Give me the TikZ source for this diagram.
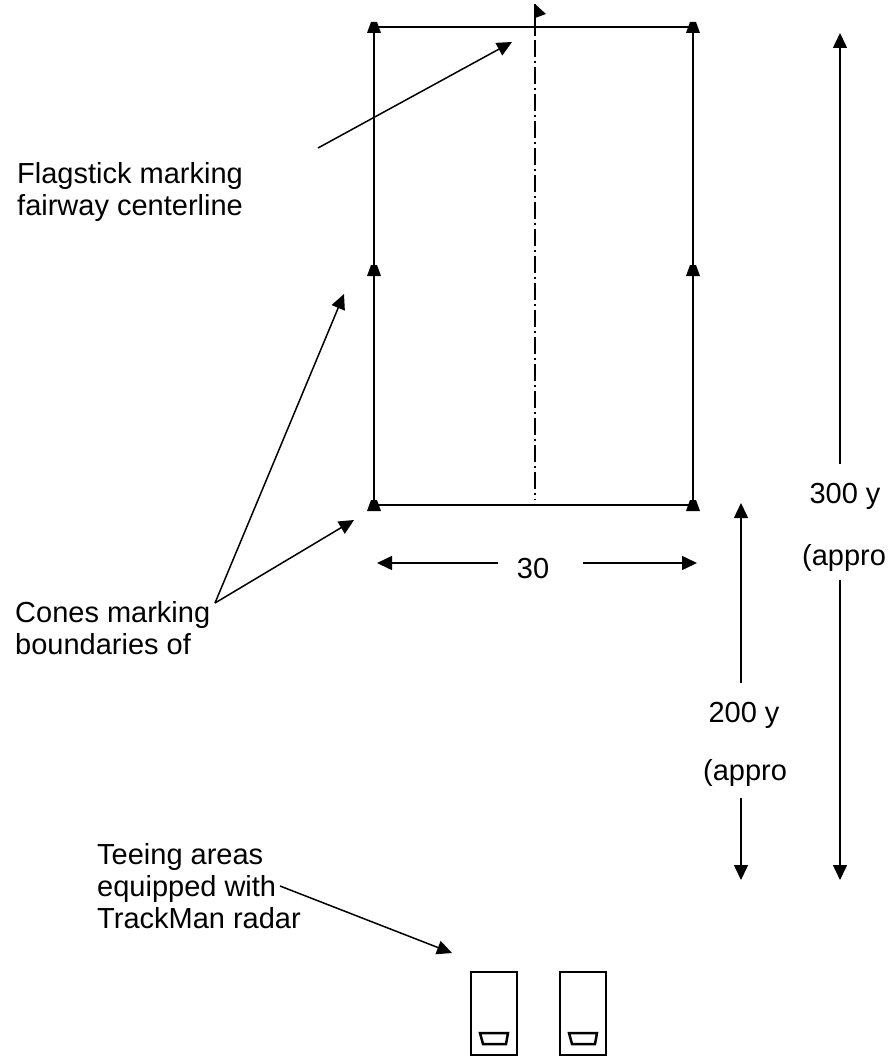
\documentclass[tikz,border=0pt]{standalone}
\usepackage{fontspec}
\setmainfont{Liberation Sans}
\usetikzlibrary{arrows.meta}
\tikzset{
  lbl/.style={font=\fontsize{29}{32}\selectfont, inner sep=0pt, align=left},
  ptr/.style={line width=1.5pt, -{Triangle[length=15pt,width=14pt]}},
  fairway/.style={line width=2.8pt},
  cone/.pic={\fill (-7,6) -- (-3,-5) -- (3,-5) -- (7,6) -- cycle;},
  teebox/.pic={\draw[line width=2.5pt] (-23,0) rectangle (23,83);
    \draw[line width=2.5pt] (-14,61) -- (14,61) -- (12,72) -- (-11,72) -- cycle;},
}
\begin{document}
\begin{tikzpicture}[x=1pt,y=-1pt]
	\useasboundingbox (0,0) rectangle (891,1057);

	% fairway
	\coordinate (tl) at (374,27);
	\coordinate (tr) at (693,27);
	\coordinate (ml) at (374,270);
	\coordinate (mr) at (693,270);
	\coordinate (bl) at (374,505);
	\coordinate (br) at (693,505);
	\draw[fairway] (tl) -- (tr) -- (br) -- (bl) -- cycle;
	\foreach \p in {tl,tr,ml,mr,bl,br}
		\pic at (\p) {cone};

	% flagstick and centerline
	\draw[line width=2pt] (535,4) -- (535,36);
	\fill (535,4) -- (546,14) -- (535,18) -- cycle;
	\draw[line width=2pt, dash pattern=on 17pt off 4pt on 2pt off 4pt] (535,40) -- (535,500);

	% labels (base = last line)
	\node[lbl, anchor=base west] (flagtxt) at (17,215) {Flagstick marking\\fairway centerline};
	\node[lbl, anchor=base west] (conetxt) at (15,654) {Cones marking\\boundaries of};
	\node[lbl, anchor=base west] (teetxt) at (97,928) {Teeing areas\\equipped with\\TrackMan radar};

	\coordinate (flagtail) at (318,148);
	\coordinate (flagtip) at (512,42);
	\draw[ptr] (flagtail) -- (flagtip);

	\coordinate (conetail) at (215,603);
	\coordinate (conetipA) at (344,294);
	\coordinate (conetipB) at (354,520);
	\draw[ptr] (conetail) -- (conetipA);
	\draw[ptr] (conetail) -- (conetipB);

	\coordinate (teetail) at (280,886);
	\coordinate (teetip) at (452,953);
	\draw[ptr] (teetail) -- (teetip);

	% 30
	\node[lbl] (w30) at (533,569) {30};
	\coordinate (w30a) at (498,563);
	\coordinate (w30b) at (377,563);
	\coordinate (w30c) at (583,563);
	\coordinate (w30d) at (697,563);
	\draw[ptr] (w30a) -- (w30b);
	\draw[ptr] (w30c) -- (w30d);

	% 300 y
	\node[lbl, anchor=base] (l300) at (845,503) {300 y};
	\node[lbl, anchor=base west] (a300) at (802,565) {(appro};
	\coordinate (s300a) at (840,464);
	\coordinate (t300) at (840,33);
	\coordinate (s300b) at (840,580);
	\coordinate (b300) at (840,880);
	\draw[ptr] (s300a) -- (t300);
	\draw[ptr] (s300b) -- (b300);

	% 200 y
	\node[lbl, anchor=base] (l200) at (744,722) {200 y};
	\node[lbl, anchor=base west] (a200) at (703,780) {(appro};
	\coordinate (s200a) at (741,683);
	\coordinate (t200) at (741,503);
	\coordinate (s200b) at (741,798);
	\coordinate (b200) at (741,880);
	\draw[ptr] (s200a) -- (t200);
	\draw[ptr] (s200b) -- (b200);

	% teeing areas
	\pic at (494,972) {teebox};
	\pic at (583,972) {teebox};
\end{tikzpicture}
\end{document}
